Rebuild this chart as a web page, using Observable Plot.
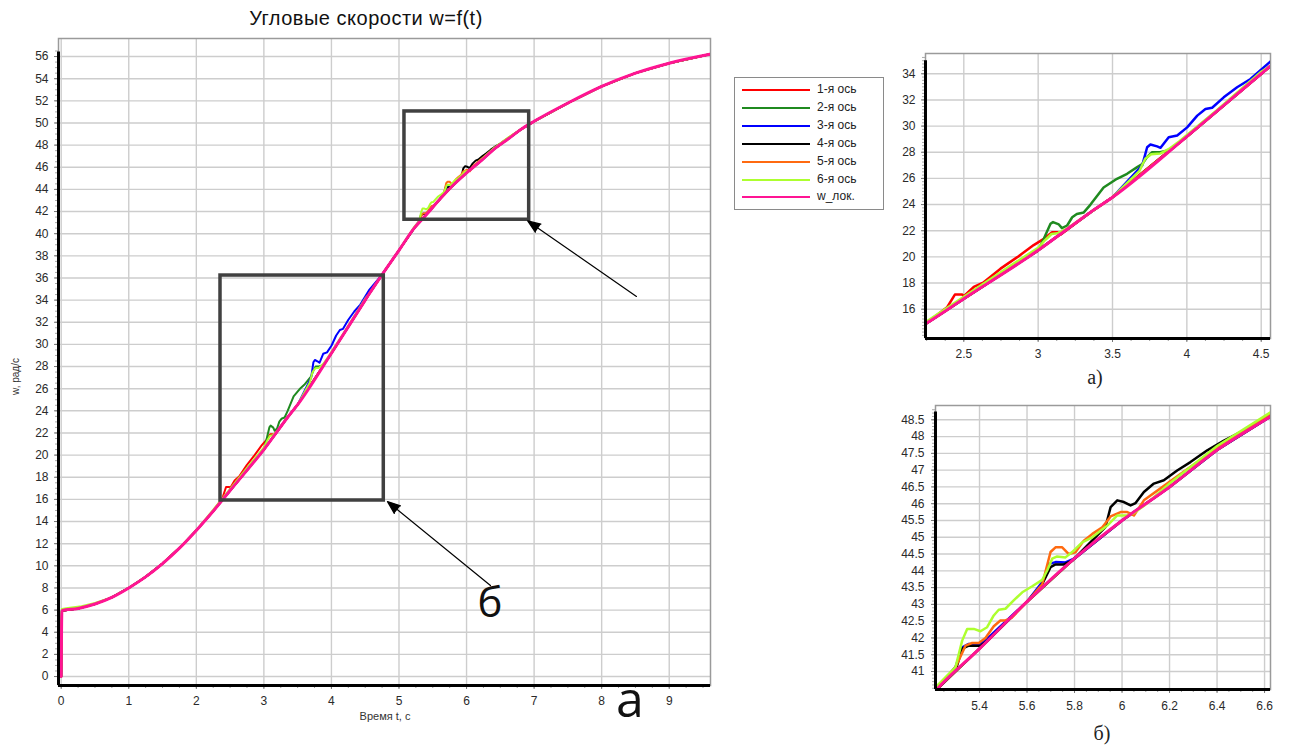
<!DOCTYPE html>
<html><head><meta charset="utf-8">
<script src="https://cdn.jsdelivr.net/npm/d3@7"></script>
<script src="https://cdn.jsdelivr.net/npm/@observablehq/plot@0.6"></script>
<style>
html,body{margin:0;padding:0;background:#fff;}
body{width:1289px;height:746px;position:relative;overflow:hidden;font-family:"Liberation Sans",Arial,sans-serif;}
.abs{position:absolute;}
.lg-row{position:absolute;left:0;height:18px;width:150px;}
.lg-line{position:absolute;left:7px;width:68px;height:2px;top:8px;}
.lg-text{position:absolute;left:82px;top:1px;font-size:12px;color:#222;white-space:nowrap;}
</style></head><body>
<script>
// ---------- data ----------
const tBase = [0, 0.01, 0.25, 0.5, 0.75, 1, 1.25, 1.5, 1.75, 2, 2.242, 2.5, 3.0, 3.35, 3.5, 4.0, 4.5, 4.563, 4.75, 5.0, 5.222, 5.4, 5.6, 5.8, 6.0, 6.2, 6.4, 6.625, 6.8, 7.0, 7.5, 8.0, 8.5, 9.0, 9.6];
const wLok  = [0, 5.95, 6.15, 6.55, 7.15, 8.0, 9.0, 10.2, 11.6, 13.2, 14.88, 16.8, 20.5, 23.4, 24.56, 29.2, 34.0, 34.6, 36.3, 38.5, 40.48, 41.68, 43.08, 44.37, 45.5, 46.5, 47.6, 48.6, 49.4, 50.15, 51.8, 53.3, 54.5, 55.4, 56.2];

// deviations of each axis from w_лок (t, w)
const axis1Segments = [
  {t: [2.388, 2.44, 2.49, 2.50, 2.567, 2.634, 2.747, 2.86, 2.97, 3.038, 3.094, 3.13, 3.15],
   w: [16.15, 17.12, 17.12, 17.0, 17.7, 18.06, 19.1, 19.98, 20.9, 21.38, 21.89, 21.89, 21.7]}
];
const axis2Segments = [
  {t: [3.038, 3.083, 3.10, 3.139, 3.16, 3.195, 3.229, 3.26, 3.307, 3.352, 3.44, 3.53, 3.598, 3.666, 3.70, 3.73, 3.767, 3.82, 3.88],
   w: [21.38, 22.53, 22.66, 22.48, 22.2, 22.4, 23.03, 23.28, 23.4, 24.0, 25.3, 25.97, 26.35, 26.86, 27.1, 27.6, 28.0, 28.0, 28.15]}
];
const axis3Segments = [
  {t: [3.70, 3.733, 3.755, 3.80, 3.823, 3.878, 3.935, 4.002, 4.07, 4.125, 4.17, 4.248, 4.338, 4.428, 4.563],
   w: [27.0, 28.38, 28.59, 28.45, 28.34, 29.15, 29.28, 29.9, 30.8, 31.3, 31.4, 32.2, 32.97, 33.6, 34.95]},
  {t: [5.30, 5.327, 5.355, 5.39, 5.42], w: [41.15, 41.72, 41.82, 41.8, 41.9]},
  {t: [5.67, 5.69, 5.72, 5.762, 5.80], w: [43.72, 44.2, 44.26, 44.25, 44.37]}
];
const axis4Segments = [
  {t: [5.30, 5.327, 5.355, 5.404, 5.43], w: [41.05, 41.68, 41.77, 41.77, 41.9]},
  {t: [5.66, 5.699, 5.72, 5.755, 5.79], w: [43.55, 44.11, 44.19, 44.19, 44.3]},
  {t: [5.93, 5.952, 5.98, 6.008, 6.036, 6.057, 6.092, 6.134, 6.176, 6.232, 6.288, 6.359, 6.429, 6.499, 6.569, 6.625],
   w: [45.3, 45.9, 46.1, 46.05, 45.95, 46.02, 46.35, 46.6, 46.7, 46.99, 47.24, 47.59, 47.88, 48.13, 48.43, 48.65]}
];
const axis5Segments = [
  {t: [5.299, 5.341, 5.369, 5.397, 5.425, 5.46, 5.488, 5.509, 5.535],
   w: [41.13, 41.77, 41.85, 41.85, 42.0, 42.35, 42.52, 42.52, 42.6]},
  {t: [5.664, 5.699, 5.72, 5.748, 5.776, 5.804, 5.839, 5.875, 5.917, 5.952, 5.994, 6.022, 6.05, 6.092, 6.2, 6.428, 6.625],
   w: [43.6, 44.56, 44.7, 44.7, 44.5, 44.55, 44.9, 45.1, 45.3, 45.62, 45.75, 45.75, 45.65, 46.1, 46.65, 47.8, 48.68]}
];
const axis6Segments = [
  {t: [0, 0.01, 0.1, 0.3, 0.5, 0.6], w: [0, 6.1, 6.2, 6.35, 6.65, 6.85]},
  {t: [2.242, 2.5, 2.75, 3.0, 3.04, 3.09, 3.13, 3.2], w: [15.0, 16.95, 18.85, 20.7, 21.2, 21.75, 21.8, 22.2]},
  {t: [3.68, 3.72, 3.76, 3.82, 3.88, 3.95, 4.2, 4.5], w: [26.55, 27.5, 27.85, 27.9, 28.25, 28.85, 31.2, 34.15]},
  {t: [5.222, 5.299, 5.327, 5.348, 5.376, 5.404, 5.432, 5.46, 5.481, 5.509, 5.544, 5.58, 5.622, 5.664, 5.685, 5.706, 5.727, 5.762, 5.79, 5.832, 5.875, 5.938, 5.98, 6.022, 6.05, 6.1, 6.2, 6.4, 6.625],
   w: [40.58, 41.13, 41.92, 42.27, 42.27, 42.2, 42.32, 42.67, 42.84, 42.87, 43.12, 43.36, 43.54, 43.73, 44.01, 44.36, 44.43, 44.4, 44.56, 44.85, 45.0, 45.35, 45.65, 45.65, 45.72, 45.98, 46.6, 47.72, 48.72]}
];

const seriesNames  = ["1-я ось", "2-я ось", "3-я ось", "4-я ось", "5-я ось", "6-я ось", "w_лок."];
const seriesColors = ["#ff0000", "#1f8a1f", "#0000ff", "#000000", "#ff6a10", "#adff2f", "#ff1493"];

// main chart ticks
const mainXTicks = [0, 1, 2, 3, 4, 5, 6, 7, 8, 9];
const mainYTicks = [0, 2, 4, 6, 8, 10, 12, 14, 16, 18, 20, 22, 24, 26, 28, 30, 32, 34, 36, 38, 40, 42, 44, 46, 48, 50, 52, 54, 56];
// inset a ticks
const aXTicks = [2.5, 3, 3.5, 4, 4.5];
const aYTicks = [16, 18, 20, 22, 24, 26, 28, 30, 32, 34];
// inset б ticks
const bXTicks = [5.4, 5.6, 5.8, 6.0, 6.2, 6.4, 6.6];
const bYTicks = [41, 41.5, 42, 42.5, 43, 43.5, 44, 44.5, 45, 45.5, 46, 46.5, 47, 47.5, 48, 48.5];

// zoom boxes and arrows on the main chart (data coordinates)
const zoomBoxes = [
  {t1: 2.358, t2: 4.775, w1: 15.9, w2: 36.22},
  {t1: 5.081, t2: 6.927, w1: 41.26, w2: 51.04}
];
const arrows = [
  {t1: 8.515, w1: 34.33, t2: 6.905, w2: 41.15},
  {t1: 6.354, w1: 8.22, t2: 4.83, w2: 15.8}
];

// ---------- build series ----------
const axisSegments = [axis1Segments, axis2Segments, axis3Segments, axis4Segments, axis5Segments, axis6Segments];
function buildSeries(segments) {
  const inSeg = t => segments.some(s => t >= s.t[0] && t <= s.t[s.t.length - 1]);
  const pts = [];
  tBase.forEach((t, i) => { if (!inSeg(t)) pts.push({t, w: wLok[i]}); });
  segments.forEach(s => s.t.forEach((t, i) => pts.push({t, w: s.w[i]})));
  pts.sort((a, b) => a.t - b.t);
  return pts;
}
const series = axisSegments.map(buildSeries);
series.push(tBase.map((t, i) => ({t, w: wLok[i]})));

function chart(o) {
  const lines = series.map((d, i) => Plot.line(d, {
    x: "t", y: "w", stroke: seriesColors[i], curve: i === 6 ? "monotone-x" : "linear",
    strokeWidth: i === 6 ? o.pinkW : o.lineW, strokeLinejoin: "round", clip: true
  }));
  return Plot.plot({
    width: o.width, height: o.height,
    marginTop: o.mt, marginBottom: o.mb, marginLeft: o.ml, marginRight: o.mr,
    x: {domain: o.xd, label: null}, y: {domain: o.yd, label: null},
    style: {fontFamily: "'Liberation Sans', Arial, sans-serif", fontSize: "12px", color: "#2a2a2a", background: "transparent", overflow: "visible"},
    marks: [
      Plot.gridX(o.xTicks, {stroke: "#cdcdcd", strokeOpacity: 1, strokeWidth: 1.4}),
      Plot.gridY(o.yTicks, {stroke: "#cdcdcd", strokeOpacity: 1, strokeWidth: 1.4}),
      Plot.frame({stroke: "#9a9a9a", strokeWidth: 1.5}),
      Plot.axisX(o.xMinor, {tickSize: 3, tickFormat: () => "", stroke: "#9a9a9a", label: null}),
      Plot.axisY(o.yMinor, {tickSize: 3, tickFormat: () => "", stroke: "#aaaaaa", label: null}),
      Plot.axisX(o.xTicks, {tickSize: 4, tickPadding: o.padX, tickFormat: o.fmtX, stroke: "#777", label: null}),
      Plot.axisY(o.yTicks, {tickSize: 4, tickPadding: o.padY, tickFormat: o.fmtY, stroke: "#777", label: null}),
      ...lines,
      Plot.ruleX([o.xd[0]], {y1: o.yd[0], y2: o.yTop, stroke: "black", strokeWidth: 3}),
      Plot.ruleY([o.yd[0]], {stroke: "black", strokeWidth: 3}),
      ...(o.extra || [])
    ]
  });
}

function place(el, left, top) {
  const wrap = document.createElement("div");
  wrap.className = "abs";
  wrap.style.left = left + "px";
  wrap.style.top = top + "px";
  wrap.appendChild(el);
  document.body.appendChild(wrap);
  return wrap;
}
function text(str, left, top, css) {
  const d = document.createElement("div");
  d.className = "abs";
  d.textContent = str;
  d.style.left = left + "px";
  d.style.top = top + "px";
  Object.assign(d.style, css || {});
  document.body.appendChild(d);
  return d;
}
const fmtNum = d => String(+d.toFixed(2));

// ---------- main chart ----------
const main = chart({
  width: 720, height: 730, mt: 38, mb: 45, ml: 58, mr: 10,
  xd: [-0.04, 9.611], yd: [-0.81, 57.63], yTop: 56.4,
  xTicks: mainXTicks, yTicks: mainYTicks,
  xMinor: d3.range(0, 9.6, 0.25), yMinor: d3.range(0, 57, 0.5),
  fmtX: fmtNum, fmtY: fmtNum, padX: 7, padY: 6,
  lineW: 2, pinkW: 3,
  extra: [
    Plot.rect(zoomBoxes, {x1: "t1", x2: "t2", y1: "w1", y2: "w2", fill: "none", stroke: "#404040", strokeWidth: 3.5}),
    Plot.arrow(arrows, {x1: "t1", y1: "w1", x2: "t2", y2: "w2", stroke: "black", fill: "black", strokeWidth: 1.2, headLength: 17, headAngle: 42})
  ]
});
place(main, 0, 0);

// ---------- inset a ----------
const insetA = chart({
  width: 420, height: 380, mt: 53, mb: 42, ml: 65, mr: 10,
  xd: [2.2424, 4.5625], yd: [13.76, 35.55], yTop: 35.0,
  xTicks: aXTicks, yTicks: aYTicks,
  xMinor: d3.range(2.25, 4.57, 0.125), yMinor: d3.range(14, 35.3, 0.25),
  fmtX: fmtNum, fmtY: fmtNum, padX: 7, padY: 6,
  lineW: 2.5, pinkW: 3
});
place(insetA, 860, 0);

// ---------- inset б ----------
const insetB = chart({
  width: 420, height: 366, mt: 25, mb: 57, ml: 75, mr: 10,
  xd: [5.2147, 6.625], yd: [40.464, 48.926], yTop: 48.73,
  xTicks: bXTicks, yTicks: bYTicks,
  xMinor: d3.range(5.25, 6.63, 0.05), yMinor: d3.range(40.5, 48.9, 0.1),
  fmtX: fmtNum, fmtY: fmtNum, padX: 8, padY: 7,
  lineW: 2.5, pinkW: 3
});
place(insetB, 860, 380);

// ---------- texts ----------
text("Угловые скорости w=f(t)", 0, 7, {width: "732px", textAlign: "center", fontSize: "20px", letterSpacing: "0.5px", color: "#111"});
text("Время t, с", 335, 710, {width: "100px", textAlign: "center", fontSize: "11px", color: "#333"});
text("w, рад/с", 0, 0, {fontSize: "10px", color: "#333", transformOrigin: "0 0", transform: "translate(10px, 395px) rotate(-90deg)", whiteSpace: "nowrap"});
text("б", 470, 580, {width: "40px", textAlign: "center", fontSize: "42px", fontFamily: "'Open Sans', sans-serif", color: "#111", lineHeight: "1"});
text("а", 608, 673, {width: "44px", textAlign: "center", fontSize: "50px", fontFamily: "'Open Sans', sans-serif", color: "#111", lineHeight: "1"});
text("а)", 1075, 366, {width: "40px", textAlign: "center", fontSize: "20px", fontFamily: "'Liberation Serif', 'DejaVu Serif', serif", color: "#222"});
text("б)", 1082, 722, {width: "40px", textAlign: "center", fontSize: "20px", fontFamily: "'Liberation Serif', 'DejaVu Serif', serif", color: "#222"});

// ---------- legend ----------
const lg = document.createElement("div");
lg.className = "abs";
Object.assign(lg.style, {left: "734px", top: "77px", width: "150px", height: "133px", border: "1.5px solid #8a8a8a", background: "#fff", boxSizing: "border-box"});
seriesNames.forEach((name, i) => {
  const row = document.createElement("div");
  row.className = "lg-row";
  row.style.top = (3 + i * 17.9) + "px";
  const ln = document.createElement("div");
  ln.className = "lg-line";
  ln.style.background = seriesColors[i];
  const tx = document.createElement("div");
  tx.className = "lg-text";
  tx.textContent = name;
  row.appendChild(ln); row.appendChild(tx);
  lg.appendChild(row);
});
document.body.appendChild(lg);
</script>
</body></html>
